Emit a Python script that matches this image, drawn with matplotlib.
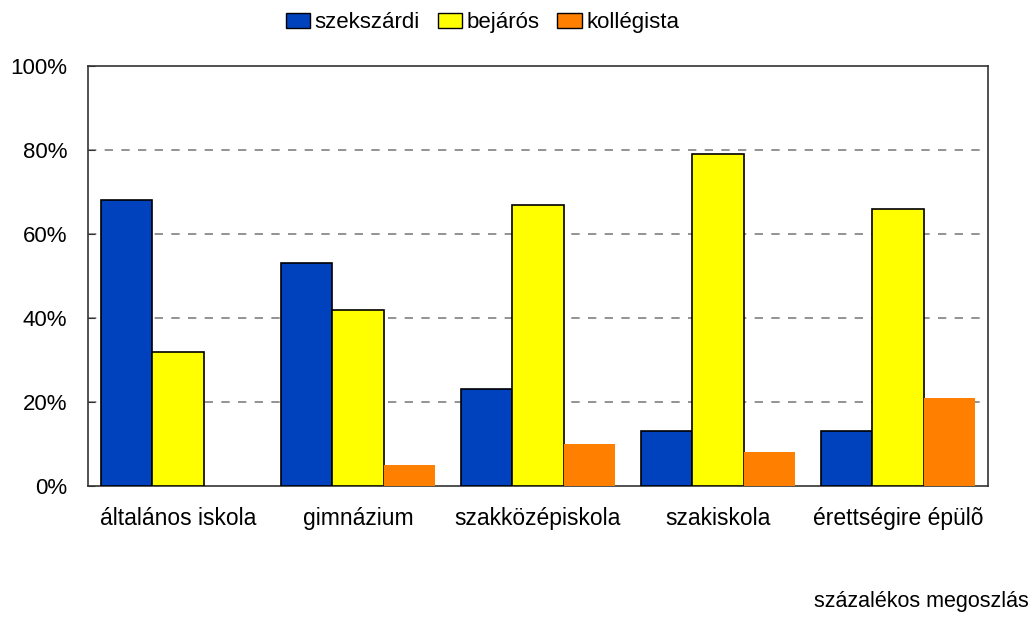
import numpy as np
import matplotlib.pyplot as plt
from matplotlib.patches import Patch

plt.rcParams['font.family'] = ['Liberation Sans', 'DejaVu Sans']

categories = ["általános iskola", "gimnázium", "szakközépiskola", "szakiskola", "érettségire épülõ"]
szekszardi = [68, 53, 23, 13, 13]
bejaros = [32, 42, 67, 79, 66]
kollegista = [0, 5, 10, 8, 21]

colors = ["#0041BE", "#FFFF00", "#FF8000"]
names = ["szekszárdi", "bejárós", "kollégista"]

fig = plt.figure(figsize=(10.34, 6.17), dpi=100)
ax = fig.add_axes([0.0851, 0.2123, 0.8704, 0.6807])

x = np.arange(len(categories))
w = 0.285
ax.bar(x - w, szekszardi, w, color=colors[0], edgecolor="black", linewidth=1.2, zorder=3)
ax.bar(x, bejaros, w, color=colors[1], edgecolor="black", linewidth=1.2, zorder=3)
ax.bar(x + w, kollegista, w, color=colors[2], linewidth=0, zorder=3)

ax.set_xlim(-0.5, len(categories) - 0.5)
ax.set_ylim(0, 100)
ax.set_yticks([0, 20, 40, 60, 80, 100])
ax.set_yticklabels(["0%", "20%", "40%", "60%", "80%", "100%"], fontsize=16)
ax.set_xticks(x)
ax.set_xticklabels(categories, fontsize=16.5)
ax.tick_params(axis="x", length=0, pad=15)
ax.tick_params(axis="y", direction="in", length=5, pad=15, color="#333333")
for y in [20, 40, 60, 80]:
    ax.axhline(y, color="#808080", linestyle=(0, (5, 5)), linewidth=1.2, zorder=1)
for s in ax.spines.values():
    s.set_color("#333333")
    s.set_linewidth(1.2)

handles = [Patch(facecolor=c, edgecolor="black", linewidth=1) for c in colors]
fig.legend(handles, names, loc="upper center", bbox_to_anchor=(0.4666, 1.013), ncol=3,
           frameon=False, fontsize=16, handlelength=1.1, handleheight=0.65,
           handletextpad=0.2, columnspacing=0.8)

fig.text(0.995, 0.008, "százalékos megoszlás", ha="right", va="bottom", fontsize=15.5)

fig.savefig("out.png", dpi=100)
